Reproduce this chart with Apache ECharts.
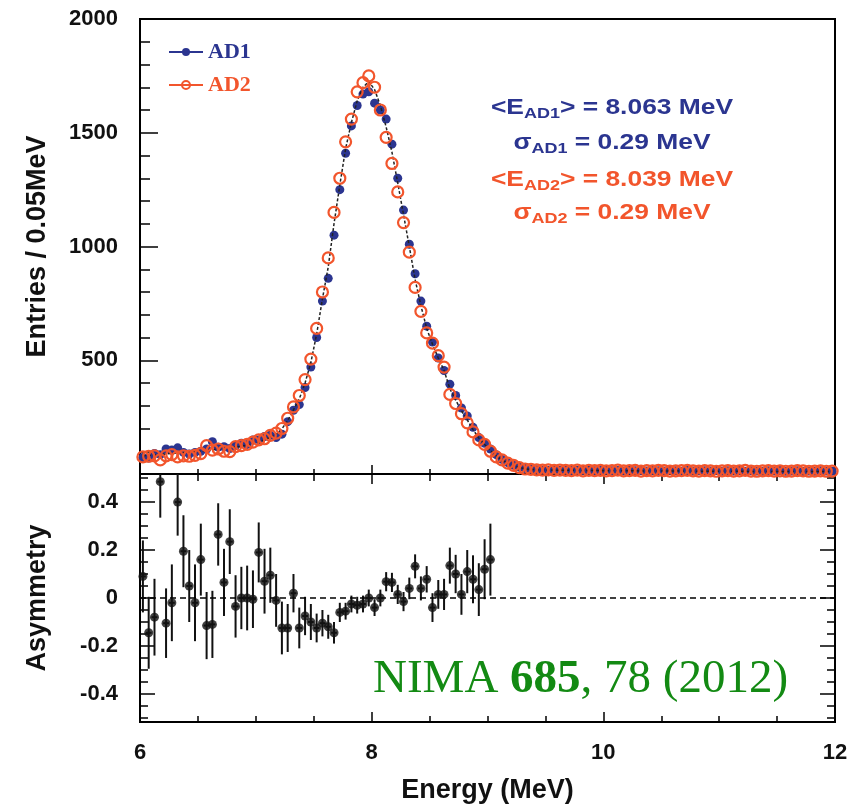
<!DOCTYPE html>
<html>
<head>
<meta charset="utf-8">
<script src="https://cdn.jsdelivr.net/npm/echarts@6/dist/echarts.min.js"></script>
<style>
html,body{margin:0;padding:0;background:#fff;}
#chart{width:859px;height:807px;}
</style>
</head>
<body>
<div id="chart"></div>
<script>
// ---- binning (bin centres follow from these) ----
const energyLow = 6.0;
const binWidth = 0.05;

// ---- AD1 spectrum (entries / 0.05 MeV), 120 bins from 6.0 to 12.0 MeV ----
const ad1Counts = [
  72,70,90,85,110,105,115,95,88,95,
  100,110,142,118,120,112,125,135,130,150,
  150,165,170,160,175,230,280,305,380,470,
  600,760,860,1050,1250,1410,1530,1620,1670,1680,
  1630,1600,1560,1450,1300,1160,1010,880,760,650,
  580,510,455,395,345,290,255,205,160,135,
  110,85,64,50,38,30,24,
  21,19,18,17,18,16,17,15,16,15,
  17,14,15,16,14,15,13,16,14,15,
  13,15,14,13,16,14,12,15,13,14,
  14,13,15,12,14,13,15,12,14,13,
  12,14,13,15,12,13,14,11,13,12,
  14,13,12
];

// ---- AD2 spectrum ----
const ad2Counts = [
  75,78,80,62,80,85,75,80,78,82,
  90,125,105,110,100,98,120,125,130,140,
  150,155,170,180,200,245,295,345,415,505,
  640,800,950,1150,1300,1460,1560,1680,1720,1750,
  1700,1600,1480,1365,1240,1105,975,820,715,620,
  575,520,470,350,310,265,225,185,150,130,
  100,75,62,48,38,28,22,
  20,18,17,18,16,17,16,15,17,14,
  16,15,16,14,15,17,14,15,16,13,
  15,14,16,15,13,14,15,16,14,13,
  15,14,12,14,15,13,14,16,13,12,
  14,15,13,14,12,13,15,14,12,13,
  14,12,13
];

// ---- black reference curve ----
const fitCounts = [
  80,82,84,86,88,90,92,94,96,98,
  100,103,106,109,112,115,118,122,127,133,
  140,150,162,175,198,235,282,330,400,490,
  615,770,910,1100,1270,1430,1545,1640,1700,1725,
  1690,1620,1525,1415,1280,1140,1000,855,740,640,
  570,510,455,375,325,278,238,195,158,130,
  104,80,62,48,37,29,23,
  20,19,18,18,17,17,16,16,16,15,
  15,15,15,14,14,14,14,14,14,13,
  13,13,13,13,13,13,13,12,12,12,
  12,12,12,12,12,12,12,12,11,11,
  11,11,11,11,11,11,11,11,11,11,
  11,11,11
];

// ---- asymmetry, first 61 bins (6.0 - 9.05 MeV) ----
const asymValues = [
  0.09,-0.145,-0.08,0.485,-0.105,-0.02,0.40,0.195,0.05,-0.02,
  0.16,-0.115,-0.11,0.265,0.065,0.235,-0.035,0.0,0.0,-0.005,
  0.19,0.07,0.095,-0.01,-0.125,-0.125,0.02,-0.125,-0.075,-0.10,
  -0.125,-0.105,-0.12,-0.145,-0.06,-0.055,-0.025,-0.03,-0.025,0.0,
  -0.04,0.0,0.068,0.065,0.015,-0.015,0.04,0.132,0.04,0.078,
  -0.04,0.015,0.015,0.135,0.10,0.015,0.11,0.078,0.035,0.12,
  0.16
];
const asymErrors = [
  0.15,0.15,0.16,0.15,0.145,0.16,0.14,0.15,0.15,0.16,
  0.15,0.14,0.14,0.13,0.14,0.135,0.13,0.13,0.135,0.12,
  0.125,0.135,0.115,0.11,0.11,0.10,0.08,0.085,0.08,0.075,
  0.06,0.055,0.05,0.045,0.04,0.035,0.035,0.035,0.035,0.035,
  0.035,0.035,0.04,0.04,0.04,0.04,0.045,0.05,0.05,0.055,
  0.06,0.06,0.065,0.075,0.08,0.085,0.09,0.10,0.11,0.125,
  0.15
];

// ---- tick labels ----
const energyTicks = [6, 8, 10, 12];
const entriesTicks = [500, 1000, 1500, 2000];
const asymTicks = [-0.4, -0.2, 0, 0.2, 0.4];
const asymMinorTicks = [-0.5,-0.45,-0.35,-0.3,-0.25,-0.15,-0.1,-0.05,0.05,0.1,0.15,0.25,0.3,0.35,0.45,0.5];

const BLUE = '#2b3590';
const ORANGE = '#f2552c';
const GREEN = '#138a13';

const centre = i => +(energyLow + binWidth * (i + 0.5)).toFixed(3);
const ad1Data = ad1Counts.map((v, i) => [centre(i), v]);
const ad2Data = ad2Counts.map((v, i) => [centre(i), v]);
const fitData = fitCounts.map((v, i) => [centre(i), v]);
const asymData = asymValues.map((v, i) => [centre(i), v, asymErrors[i]]);

const labelFont = {fontFamily: 'Liberation Sans', fontWeight: 'bold', fontSize: 22, color: '#111'};
const titleFont = {fontFamily: 'Liberation Sans', fontWeight: 'bold', fontSize: 27, color: '#111'};
const tickLine = {color: '#000', width: 1.5};
const noLine = {show: false, onZero: false};

const chart = echarts.init(document.getElementById('chart'), null, {renderer: 'canvas'});

const annoRich = (col) => ({
  m: {fontFamily: 'Liberation Sans', fontWeight: 'bold', fontSize: 22, fill: col, lineHeight: 26, verticalAlign: 'middle'},
  s: {fontFamily: 'Liberation Sans', fontWeight: 'bold', fontSize: 15, fill: col, lineHeight: 10, verticalAlign: 'bottom'}
});
const annoText = (text, col, y) => ({
  type: 'text', x: 612, y: y, scaleX: 1.2, z: 100,
  style: {text: text, rich: annoRich(col), fill: col, align: 'center', verticalAlign: 'middle'}
});

const option = {
  animation: false,
  backgroundColor: '#fff',
  grid: [
    {left: 140, right: 24, top: 19, height: 455, show: true, borderColor: '#000', borderWidth: 2,
     backgroundColor: 'transparent', containLabel: false, outerBoundsMode: 'none'},
    {left: 140, right: 24, top: 474, height: 248, show: true, borderColor: '#000', borderWidth: 2,
     backgroundColor: 'transparent', containLabel: false, outerBoundsMode: 'none'}
  ],
  legend: {
    left: 163, top: 36, orient: 'vertical', itemGap: 11, itemWidth: 34, itemHeight: 10,
    textStyle: {fontFamily: 'Liberation Serif', fontWeight: 'bold', fontSize: 22},
    data: [
      {name: 'AD1', textStyle: {color: BLUE}, lineStyle: {color: BLUE, width: 2, opacity: 1}},
      {name: 'AD2', textStyle: {color: ORANGE}, lineStyle: {color: ORANGE, width: 2, opacity: 1}}
    ]
  },
  xAxis: [
    {gridIndex: 0, type: 'value', min: 6, max: 12, interval: 2,
     axisLine: noLine, axisLabel: {show: false}, splitLine: {show: false},
     axisTick: {show: true, inside: true, length: 9, lineStyle: tickLine},
     minorTick: {show: true, splitNumber: 4, length: 5, lineStyle: tickLine}},
    {gridIndex: 1, type: 'value', min: 6, max: 12, interval: 2, position: 'bottom',
     axisLine: noLine, splitLine: {show: false},
     axisTick: {show: true, inside: true, length: 10, lineStyle: tickLine},
     minorTick: {show: true, splitNumber: 4, length: 6, lineStyle: tickLine},
     axisLabel: Object.assign({margin: 20, customValues: energyTicks, formatter: v => String(v)}, labelFont),
     name: 'Energy (MeV)', nameLocation: 'middle', nameGap: 55, nameMoveOverlap: false, nameTextStyle: titleFont},
    {gridIndex: 1, type: 'value', min: 6, max: 12, interval: 2, position: 'top',
     axisLine: noLine, axisLabel: {show: false}, splitLine: {show: false},
     axisTick: {show: true, inside: true, length: 10, lineStyle: tickLine},
     minorTick: {show: true, splitNumber: 4, length: 7, lineStyle: tickLine}}
  ],
  yAxis: [
    {gridIndex: 0, type: 'value', min: 0, max: 2000, interval: 500,
     axisLine: noLine, splitLine: {show: false},
     axisTick: {show: true, inside: true, length: 18, lineStyle: tickLine},
     minorTick: {show: true, splitNumber: 5, length: 10, lineStyle: tickLine},
     axisLabel: Object.assign({margin: 22, customValues: entriesTicks, formatter: v => String(v)}, labelFont),
     name: 'Entries / 0.05MeV', nameLocation: 'middle', nameGap: 89, nameRotate: 90, nameMoveOverlap: false,
     nameTextStyle: titleFont},
    {gridIndex: 1, type: 'value', min: -0.517, max: 0.517, position: 'left',
     axisLine: noLine, splitLine: {show: false},
     axisTick: {show: true, inside: true, length: 15, lineStyle: tickLine, customValues: asymTicks},
     axisLabel: Object.assign({margin: 22, customValues: asymTicks,
       formatter: v => (Math.abs(v) < 1e-9 ? '0' : v.toFixed(1))}, labelFont),
     name: 'Asymmetry', nameLocation: 'middle', nameGap: 89, nameRotate: 90, nameMoveOverlap: false,
     nameTextStyle: titleFont},
    {gridIndex: 1, type: 'value', min: -0.517, max: 0.517, position: 'left',
     axisLine: noLine, splitLine: {show: false}, axisLabel: {show: false},
     axisTick: {show: true, inside: true, length: 8, lineStyle: tickLine, customValues: asymMinorTicks}},
    {gridIndex: 1, type: 'value', min: -0.517, max: 0.517, position: 'right',
     axisLine: noLine, splitLine: {show: false}, axisLabel: {show: false},
     axisTick: {show: true, inside: true, length: 15, lineStyle: tickLine, customValues: asymTicks}},
    {gridIndex: 1, type: 'value', min: -0.517, max: 0.517, position: 'right',
     axisLine: noLine, splitLine: {show: false}, axisLabel: {show: false},
     axisTick: {show: true, inside: true, length: 8, lineStyle: tickLine, customValues: asymMinorTicks}}
  ],
  series: [
    {name: 'AD1', type: 'line', xAxisIndex: 0, yAxisIndex: 0, data: ad1Data,
     symbol: 'circle', symbolSize: 9, showAllSymbol: true, z: 2,
     itemStyle: {color: BLUE}, lineStyle: {opacity: 0, width: 0}, silent: true},
    {name: 'model', type: 'line', xAxisIndex: 0, yAxisIndex: 0, data: fitData,
     showSymbol: false, symbol: 'none', z: 3,
     lineStyle: {color: '#222', width: 1.5, type: [3, 2]}, silent: true},
    {name: 'AD2', type: 'line', xAxisIndex: 0, yAxisIndex: 0, data: ad2Data,
     symbol: 'circle', symbolSize: 11, showAllSymbol: true, z: 4,
     itemStyle: {color: 'rgba(255,255,255,0)', borderColor: ORANGE, borderWidth: 2.2},
     lineStyle: {opacity: 0, width: 0}, silent: true},
    {name: 'asymErr', type: 'custom', xAxisIndex: 1, yAxisIndex: 1, data: asymData, clip: true, silent: true,
     renderItem: function (params, api) {
       const x = api.value(0), y = api.value(1), e = api.value(2);
       const top = api.coord([x, y + e]);
       const bot = api.coord([x, y - e]);
       const l = api.coord([x - binWidth / 2, y]);
       const r = api.coord([x + binWidth / 2, y]);
       const st = {stroke: '#111', lineWidth: 2};
       return {type: 'group', children: [
         {type: 'line', shape: {x1: top[0], y1: top[1], x2: bot[0], y2: bot[1]}, style: st},
         {type: 'line', shape: {x1: l[0], y1: l[1], x2: r[0], y2: r[1]}, style: st}
       ]};
     }},
    {name: 'asym', type: 'scatter', xAxisIndex: 1, yAxisIndex: 1, data: asymData.map(d => [d[0], d[1]]),
     symbol: 'circle', symbolSize: 9, itemStyle: {color: '#111'}, z: 5, silent: true,
     markLine: {silent: true, symbol: 'none', label: {show: false},
       lineStyle: {color: '#000', width: 1.5, type: [6, 4]}, data: [{yAxis: 0}]}}
  ],
  graphic: [
    annoText('{m|<E}{s|AD1}{m|> = 8.063 MeV}', BLUE, 108),
    annoText('{m|σ}{s|AD1}{m| = 0.29 MeV}', BLUE, 143),
    annoText('{m|<E}{s|AD2}{m|> = 8.039 MeV}', ORANGE, 180),
    annoText('{m|σ}{s|AD2}{m| = 0.29 MeV}', ORANGE, 213),
    {type: 'text', x: 373, y: 680, z: 100,
     style: {text: '{n|NIMA }{b|685}{n|, 78 (2012)}', align: 'left', verticalAlign: 'middle', fill: GREEN,
       rich: {
         n: {fontFamily: 'Liberation Serif', fontSize: 47, fill: GREEN},
         b: {fontFamily: 'Liberation Serif', fontWeight: 'bold', fontSize: 47, fill: GREEN}
       }}}
  ]
};
chart.setOption(option);
</script>
</body>
</html>
